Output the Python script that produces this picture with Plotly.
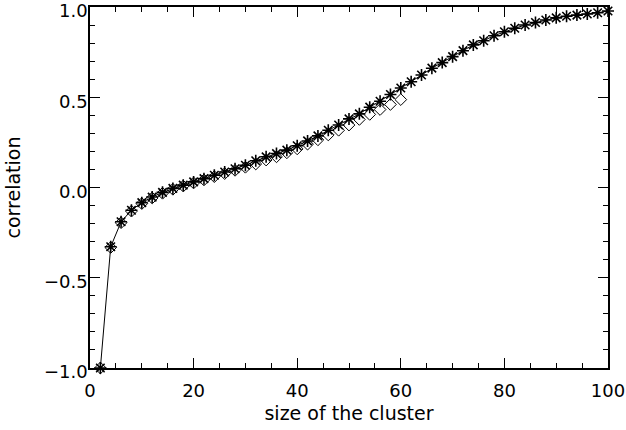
import plotly.graph_objects as go

# cluster sizes
size_full = list(range(2, 101, 2))
size_part = list(range(2, 61, 2))

# correlation, full sample (asterisks joined by a line)
corr_full = [
    -1.000, -0.328, -0.190, -0.126, -0.084, -0.053, -0.027, -0.005, 0.013, 0.031,
    0.049, 0.068, 0.086, 0.104, 0.123, 0.148, 0.170, 0.188, 0.207, 0.231,
    0.258, 0.286, 0.317, 0.346, 0.380, 0.408, 0.445, 0.478, 0.515, 0.551,
    0.586, 0.623, 0.661, 0.692, 0.725, 0.758, 0.790, 0.813, 0.841, 0.863,
    0.882, 0.900, 0.914, 0.928, 0.940, 0.949, 0.955, 0.961, 0.968, 0.978,
]

# correlation, partial sample (open diamonds)
corr_part = [
    -1.000, -0.332, -0.195, -0.131, -0.089, -0.058, -0.032, -0.010, 0.008, 0.025,
    0.042, 0.060, 0.077, 0.095, 0.112, 0.130, 0.152, 0.170, 0.192, 0.214,
    0.240, 0.264, 0.291, 0.317, 0.346, 0.377, 0.405, 0.432, 0.460, 0.487,
]

x_ticks = [0, 20, 40, 60, 80, 100]
y_ticks = [-1.0, -0.5, 0.0, 0.5, 1.0]

FONT = "DejaVu Sans, Liberation Sans, Arial, sans-serif"

fig = go.Figure()

fig.add_trace(go.Scatter(
    x=size_part, y=corr_part, mode="markers",
    marker=dict(symbol="diamond-open", size=9, color="black",
                line=dict(width=1, color="black")),
    showlegend=False, cliponaxis=False,
))

fig.add_trace(go.Scatter(
    x=size_full, y=corr_full, mode="lines+markers",
    line=dict(color="black", width=1),
    marker=dict(symbol="asterisk-open", size=10, color="black",
                line=dict(width=1.6, color="black")),
    showlegend=False, cliponaxis=False,
))

axis_common = dict(
    showgrid=False, zeroline=False, automargin=False,
    showline=True, linecolor="black", linewidth=1.5,
    mirror="ticks", ticks="inside", ticklen=10, tickwidth=1, tickcolor="black",
    tickfont=dict(family=FONT, size=18, color="black"),
    ticklabeloverflow="allow",
)

fig.update_xaxes(
    range=[0, 100], tickvals=x_ticks, ticktext=[str(v) for v in x_ticks],
    minor=dict(dtick=5, ticks="inside", ticklen=5, tickcolor="black", tickwidth=1),
    ticklabelstandoff=6,
    title=dict(text="size of the cluster", font=dict(family=FONT, size=19, color="black"),
               standoff=6),
    **axis_common,
)
fig.update_yaxes(
    range=[-1.0, 1.0], tickvals=y_ticks, tickformat=".1f",
    minor=dict(dtick=0.1, ticks="inside", ticklen=5, tickcolor="black", tickwidth=1),
    ticklabelstandoff=-3, ticklabelshift=4,
    title=dict(text="correlation", font=dict(family=FONT, size=19, color="black"),
               standoff=18),
    **axis_common,
)

fig.update_layout(
    width=626, height=430,
    margin=dict(l=90, r=18, t=7, b=62),
    paper_bgcolor="white", plot_bgcolor="white",
)

fig.write_html("out.html")
